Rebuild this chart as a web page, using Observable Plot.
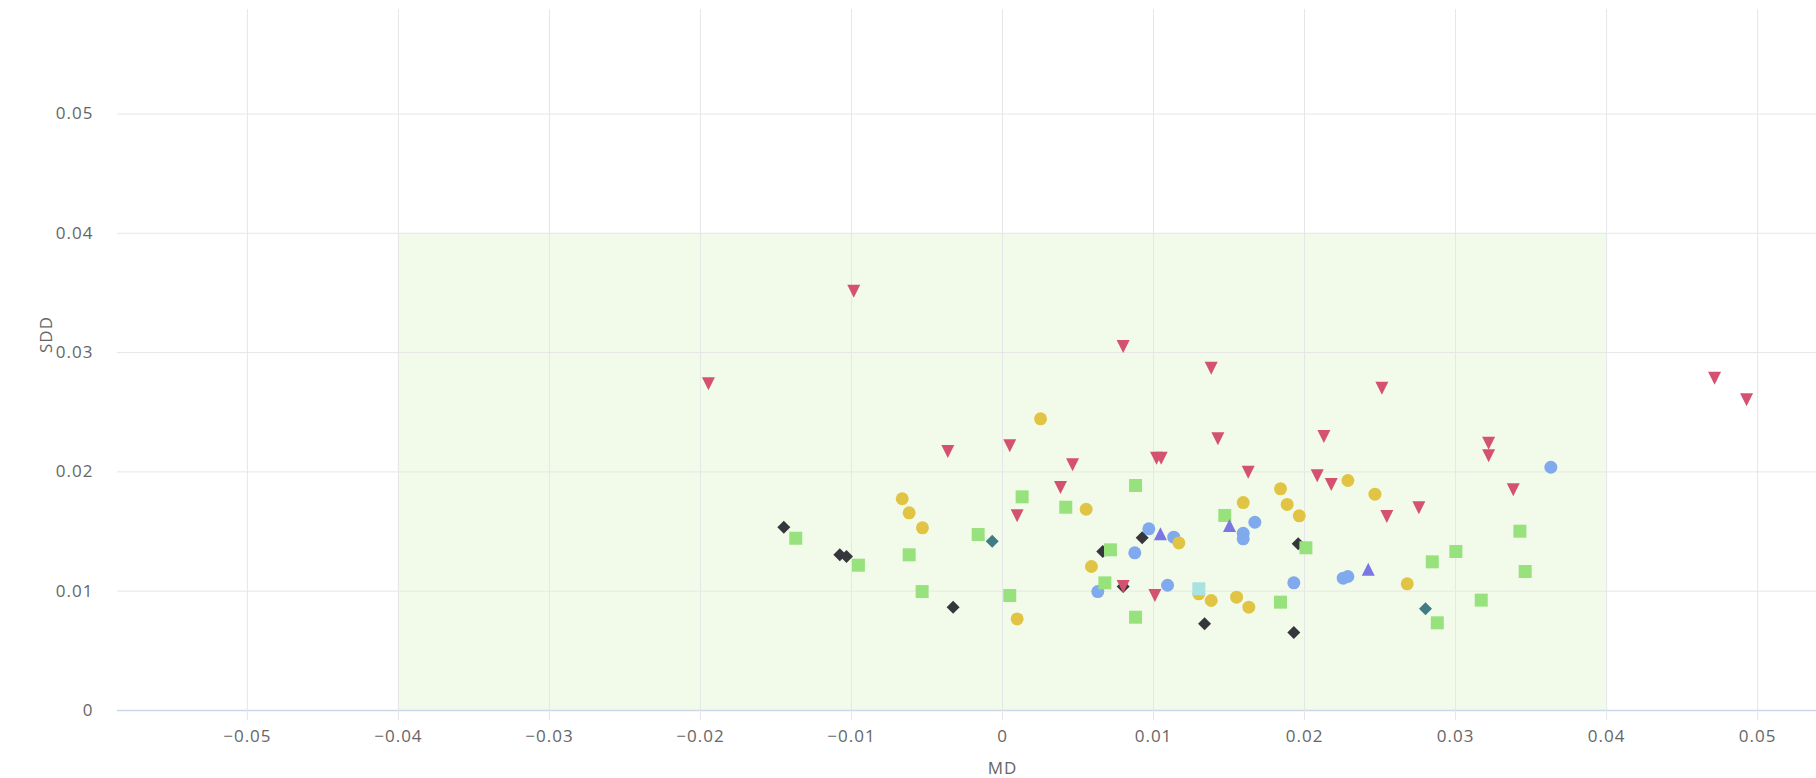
<!DOCTYPE html>
<html><head><meta charset="utf-8">
<script src="https://cdn.jsdelivr.net/npm/d3@7"></script>
<script src="https://cdn.jsdelivr.net/npm/@observablehq/plot@0.6"></script>
<style>html,body{margin:0;padding:0;background:#fff;} svg{display:block} svg text{letter-spacing:1px}</style>
</head><body><div id="chart"></div>
<script>
// ---- data (MD, SDD) ----
const xTicks = [-0.05,-0.04,-0.03,-0.02,-0.01,0,0.01,0.02,0.03,0.04,0.05];
const yTicks = [0,0.01,0.02,0.03,0.04,0.05];
const bandMD = [-0.04, 0.04];
const bandSDD = [0, 0.04];

const blueCircles = [[0.00969,0.01523],[0.00876,0.01322],[0.01134,0.01453],[0.00631,0.00997],[0.01093,0.0105],[0.01671,0.01578],[0.01594,0.01486],[0.01594,0.01439],[0.01929,0.0107],[0.02256,0.01109],[0.02287,0.01123],[0.03631,0.02039]];
const darkDiamonds = [[-0.01448,0.01537],[-0.01077,0.01305],[-0.01033,0.01291],[-0.00327,0.00866],[0.00925,0.01448],[0.00664,0.01333],[0.00799,0.01039],[0.01338,0.00727],[0.01958,0.01397],[0.01929,0.00654]];
const greenSquares = [[-0.01369,0.01444],[-0.00954,0.01218],[-0.00618,0.01305],[-0.00532,0.00997],[-0.00161,0.01475],[0.0013,0.01791],[0.00048,0.00964],[0.00419,0.01704],[0.00715,0.01347],[0.00678,0.0107],[0.00881,0.01886],[0.00881,0.00782],[0.01472,0.01635],[0.01841,0.00908],[0.02009,0.01364],[0.02846,0.01246],[0.03002,0.01333],[0.0317,0.00925],[0.02879,0.00735],[0.03426,0.01503],[0.03461,0.01165]];
const purpleTriangles = [[0.01046,0.01481],[0.01503,0.01551],[0.02422,0.01184]];
const yellowCircles = [[0.00252,0.02445],[-0.00664,0.01775],[-0.00618,0.01657],[-0.0053,0.01531],[0.00554,0.01687],[0.00589,0.01207],[0.00097,0.00768],[0.01168,0.01405],[0.01594,0.01743],[0.01841,0.01858],[0.01885,0.01727],[0.01965,0.01632],[0.013,0.00978],[0.01382,0.00922],[0.0155,0.0095],[0.01631,0.00866],[0.02287,0.01928],[0.02466,0.01813],[0.0268,0.01062]];
const tealDiamonds = [[-0.00068,0.01419],[0.02801,0.00852]];
const cyanSquares = [[0.013,0.0102]];
const redTriangles = [[-0.01947,0.02738],[-0.00985,0.03515],[0.00799,0.03051],[0.01382,0.02869],[-0.00362,0.02171],[0.00048,0.02219],[0.00464,0.0206],[0.00384,0.01869],[0.00097,0.01632],[0.0102,0.02115],[0.01051,0.02115],[0.01426,0.02277],[0.01627,0.01998],[0.02128,0.02297],[0.02084,0.01967],[0.02177,0.01894],[0.00799,0.01039],[0.01009,0.00964],[0.02512,0.02702],[0.03219,0.02241],[0.03219,0.02135],[0.02545,0.01626],[0.02757,0.01699],[0.03382,0.0185],[0.04715,0.02785],[0.04927,0.02604]];

// ---- Highcharts-like symbols ----
const rad = s => Math.sqrt(s / Math.PI);
const symSquare = {draw(c, s){const r=rad(s); c.rect(-r,-r,2*r,2*r);}};
const symDiamond = {draw(c, s){const r=rad(s); c.moveTo(0,-r); c.lineTo(r,0); c.lineTo(0,r); c.lineTo(-r,0); c.closePath();}};
const symTriUp = {draw(c, s){const r=rad(s); c.moveTo(0,-r); c.lineTo(r,r); c.lineTo(-r,r); c.closePath();}};
const symTriDown = {draw(c, s){const r=rad(s); c.moveTo(-r,-r); c.lineTo(r,-r); c.lineTo(0,r); c.closePath();}};

const series = [
  {data: blueCircles, symbol: "circle", fill: "#80a9ee"},
  {data: darkDiamonds, symbol: symDiamond, fill: "#36373c"},
  {data: greenSquares, symbol: symSquare, fill: "#98e27e"},
  {data: purpleTriangles, symbol: symTriUp, fill: "#7b76e2"},
  {data: yellowCircles, symbol: "circle", fill: "#e2c445"},
  {data: tealDiamonds, symbol: symDiamond, fill: "#3f7c86"},
  {data: cyanSquares, symbol: symSquare, fill: "#a8e2e1"},
  {data: redTriangles, symbol: symTriDown, fill: "#d4526f"}
];

const fmt = d => (d < 0 ? "\u2212" : "") + String(+Math.abs(d).toFixed(2));

const chart = Plot.plot({
  width: 1816, height: 778,
  marginLeft: 117, marginRight: 0, marginTop: 9, marginBottom: 68,
  x: {domain: [-0.0586, 0.0539]},
  y: {domain: [0, 0.05876]},
  style: {fontFamily: "'Open Sans', sans-serif", fontSize: "17px", color: "#666", background: "#fff"},
  marks: [
    Plot.rect([0], {x1: () => bandMD[0], x2: () => bandMD[1], y1: () => bandSDD[0], y2: () => bandSDD[1], fill: "#f2fbea"}),
    Plot.gridX(xTicks, {stroke: "#e4e6ea", strokeOpacity: 1}),
    Plot.gridY(yTicks.filter(d => d > 0), {stroke: "#e6e6e6", strokeOpacity: 1}),
    Plot.ruleY([0], {stroke: "#ccd6eb", strokeWidth: 1.5}),
    Plot.axisX({ticks: xTicks, tickSize: 10, stroke: "#e4e6ea", tickPadding: 9, tickFormat: fmt, fill: "#666", label: null}),
    Plot.axisY({ticks: yTicks, tickSize: 0, tickPadding: 24, tickFormat: fmt, fill: "#666", label: null}),
    Plot.text(["MD"], {x: () => 0, frameAnchor: "bottom", dy: 63, text: d => d, fill: "#666", fontSize: 17}),
    Plot.text(["SDD"], {frameAnchor: "left", dx: -71, dy: -7, rotate: -90, text: d => d, fill: "#666", fontSize: 17}),
    ...series.map(s => Plot.dot(s.data, {x: d => d[0], y: d => d[1], r: 6.5, symbol: s.symbol, fill: s.fill, stroke: "none"}))
  ]
});
document.getElementById("chart").appendChild(chart);
</script>
</body></html>
